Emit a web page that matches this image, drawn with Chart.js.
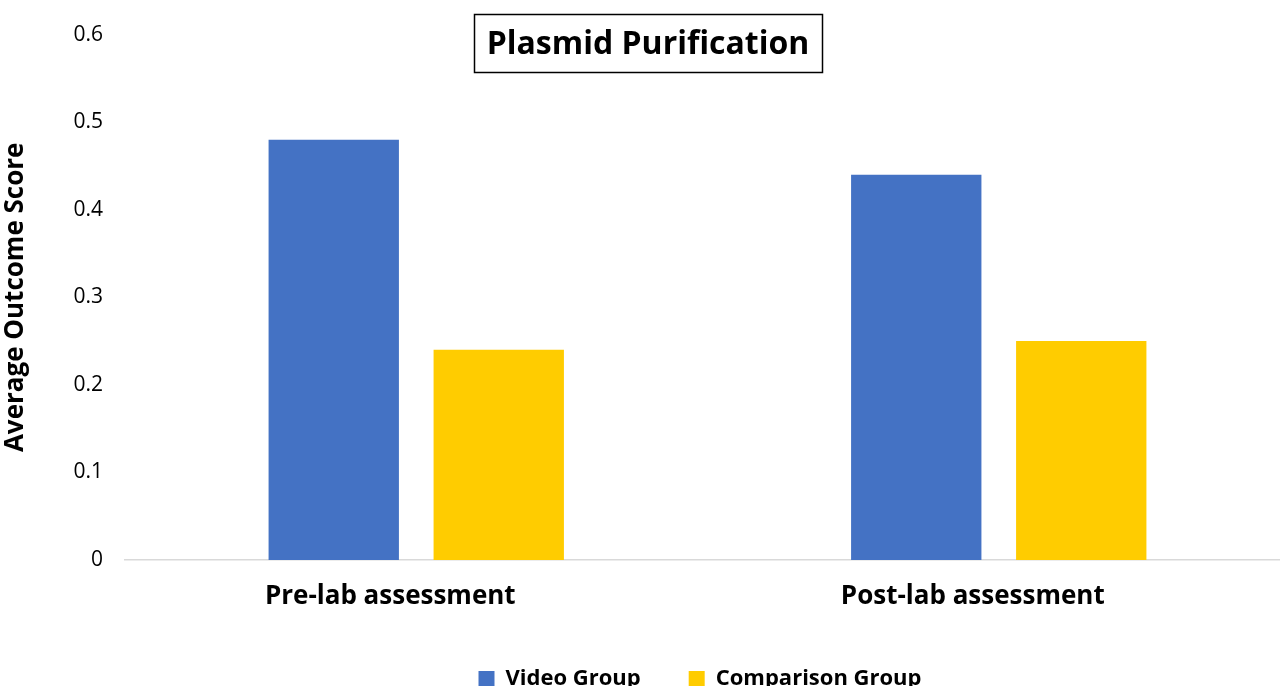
<!DOCTYPE html>
<html>
<head>
<meta charset="utf-8">
<script src="https://cdn.jsdelivr.net/npm/chart.js@4.4.0/dist/chart.umd.min.js"></script>
<style>
  html, body { margin: 0; padding: 0; background: #fff; overflow: hidden; }
  #wrap { width: 1280px; height: 686px; overflow: hidden; }
</style>
</head>
<body>
<div id="wrap"><canvas id="myChart" width="1290" height="700"></canvas></div>
<script>
'use strict';
//data
let categories = ['Pre-lab assessment', 'Post-lab assessment'];
let videoScores = [0.48, 0.44];
let comparisonScores = [0.24, 0.25];
let yTicks = [0, 0.1, 0.2, 0.3, 0.4, 0.5, 0.6];
let chartTitle = 'Plasmid Purification';

const FONT = 'Open Sans';

//boxed title drawn over the plot
const boxedTitle = {
  id: 'boxedTitle',
  afterLayout(chart) {
    //legend sits a bit right of centre in the original
    chart.legend.left += 55;
    chart.legend.right += 55;
  },
  afterDraw(chart) {
    const ctx = chart.ctx;
    ctx.save();
    ctx.font = `bold 32px "${FONT}"`;
    ctx.fillStyle = '#000';
    ctx.textAlign = 'center';
    ctx.textBaseline = 'middle';
    ctx.fillText(chartTitle, 648, 45);
    ctx.strokeStyle = '#000';
    ctx.lineWidth = 1.5;
    ctx.strokeRect(474.5, 14.5, 348, 58);
    ctx.restore();
  }
};

new Chart(document.getElementById('myChart'), {
  type: 'bar',
  data: {
    labels: categories,
    datasets: [{
      label: 'Video Group',
      data: videoScores,
      backgroundColor: '#4472C4'
    },
    {
      label: 'Comparison Group',
      data: comparisonScores,
      backgroundColor: '#FFCC00'
    }]
  },
  options: {
    responsive: false,
    animation: false,
    devicePixelRatio: 1,
    categoryPercentage: 0.5665,
    barPercentage: 0.79,
    layout: { padding: { top: 27, left: 0, right: 0, bottom: 0 } },
    plugins: {
      title: { display: false },
      tooltip: { enabled: false },
      legend: {
        position: 'bottom',
        labels: {
          boxWidth: 16,
          boxHeight: 16,
          padding: 48,
          color: '#000',
          font: { family: FONT, size: 22, weight: 'bold' }
        }
      }
    },
    scales: {
      x: {
        grid: { display: false, drawTicks: false },
        border: { display: true, color: '#d9d9d9', width: 1.5 },
        ticks: {
          color: '#000',
          padding: 21,
          labelOffset: -26,
          font: { family: FONT, size: 26, weight: 'bold' }
        },
        afterFit(scale) { scale.height = 60; }
      },
      y: {
        min: 0,
        max: 0.6,
        afterBuildTicks(scale) { scale.ticks = yTicks.map(v => ({ value: v })); },
        grid: { display: false, drawTicks: false },
        border: { display: false },
        ticks: {
          color: '#000',
          padding: 22,
          font: { family: FONT, size: 21 },
          callback: v => String(v)
        },
        title: {
          display: true,
          text: 'Average Outcome Score',
          color: '#000',
          padding: { top: 0, bottom: 0 },
          font: { family: FONT, size: 26, weight: 'bold' }
        },
        afterFit(scale) { scale.width = 125; }
      }
    }
  },
  plugins: [boxedTitle]
});
</script>
</body>
</html>
